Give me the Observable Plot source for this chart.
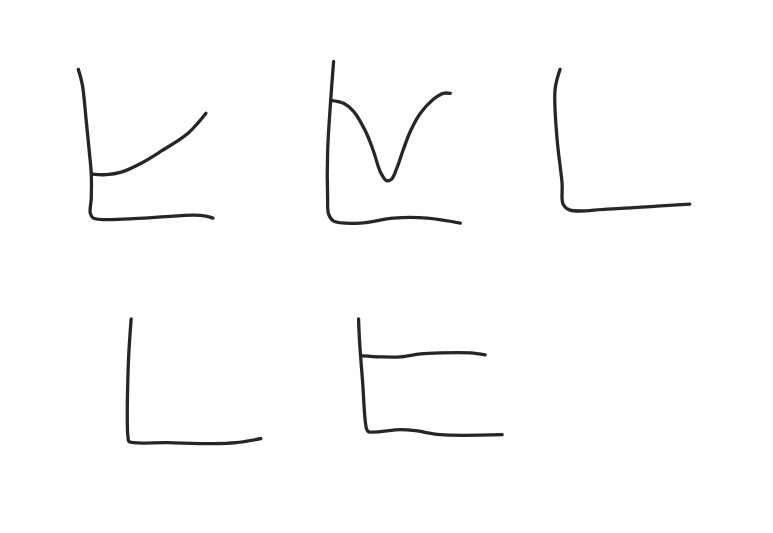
<!DOCTYPE html>
<html>
<head>
<meta charset="utf-8">
<script src="https://cdn.jsdelivr.net/npm/d3@7"></script>
<script src="https://cdn.jsdelivr.net/npm/@observablehq/plot@0.6"></script>
<style>
  html, body { margin: 0; padding: 0; background: #ffffff; }
  #chart { width: 773px; height: 533px; }
</style>
</head>
<body>
<div id="chart"></div>
<script>
// Sketch panels: column / row of each small multiple
const panelCols = [0, 1, 2, 0, 1];
const panelRows = [0, 0, 0, 1, 1];

// Axis strokes (local units inside each panel cell), [x, y]
const axis1 = [[77,198.5],[81,183.5],[85,146.5],[88,116.5],[90,93.5],[90,69.5],[89,54.5],[92,49.5],[143,49.5],[193,52.5],[205,51.5],[212,49.5]];
const axis2 = [[75.3,206.5],[72.3,166.5],[69.3,116.5],[69.3,69.5],[70.3,53.5],[75.3,46.5],[102.3,44.5],[135.3,49.5],[169.3,49.5],[202.3,44.5]];
const axis3 = [[44.7,198.5],[39.7,178.5],[41.7,128.5],[46.7,84.5],[47.7,63.5],[54.7,57.5],[91.7,58.5],[141.7,61.5],[174.7,63.5]];
const axis4 = [[130,215],[127,166],[127,95],[128,92],[167,91],[213,90],[235,91],[260,95]];
const axis5 = [[100.3,215],[101.3,193],[104.3,153],[108.3,105],[110.3,102],[142.3,104],[157.3,103],[182.3,99],[244.3,99]];

// Curve strokes
const curve1 = [[91,93.5],[105,93],[120,95.5],[140,104.5],[160,116.5],[187,134.5],[205,154.5]];
const curve2 = [[72.3,167.5],[85.3,164.5],[95.3,156.5],[107.3,136.5],[115.3,116.5],[122.3,95.5],[128.3,87],[133.3,88.5],[138.3,98.5],[145.3,118.5],[152.3,136.5],[162.3,154.5],[175.3,168.5],[185.3,174.5],[192.3,174.5]];
const curve5 = [[104.3,178],[122.3,177],[142.3,177],[162.3,180],[182.3,181],[212.3,181],[227.3,179]];

const axes = [axis1, axis2, axis3, axis4, axis5];
const curves = [curve1, curve2, null, null, curve5];

const rows = [];
axes.forEach((pts, i) => pts.forEach(([x, y]) => rows.push({panel: i, kind: "axis", x, y, col: panelCols[i], row: panelRows[i]})));
curves.forEach((pts, i) => pts && pts.forEach(([x, y]) => rows.push({panel: i, kind: "curve", x, y, col: panelCols[i], row: panelRows[i]})));

const ink = "#262626";

const chart = Plot.plot({
  width: 773,
  height: 533,
  margin: 0,
  style: {background: "#ffffff", overflow: "visible"},
  fx: {domain: [0, 1, 2], padding: 0, axis: null},
  fy: {domain: [0, 1], padding: 0, axis: null},
  x: {domain: [0, 773 / 3], axis: null},
  y: {domain: [0, 266.5], axis: null},
  marks: [
    Plot.line(rows.filter(d => d.kind === "axis"), {
      x: "x", y: "y", fx: "col", fy: "row", z: "panel",
      stroke: ink, strokeWidth: 3.3, strokeLinecap: "round", strokeLinejoin: "round",
      curve: "catmull-rom"
    }),
    Plot.line(rows.filter(d => d.kind === "curve"), {
      x: "x", y: "y", fx: "col", fy: "row", z: "panel",
      stroke: ink, strokeWidth: 3.3, strokeLinecap: "round", strokeLinejoin: "round",
      curve: "catmull-rom"
    })
  ]
});
document.getElementById("chart").appendChild(chart);
</script>
</body>
</html>
